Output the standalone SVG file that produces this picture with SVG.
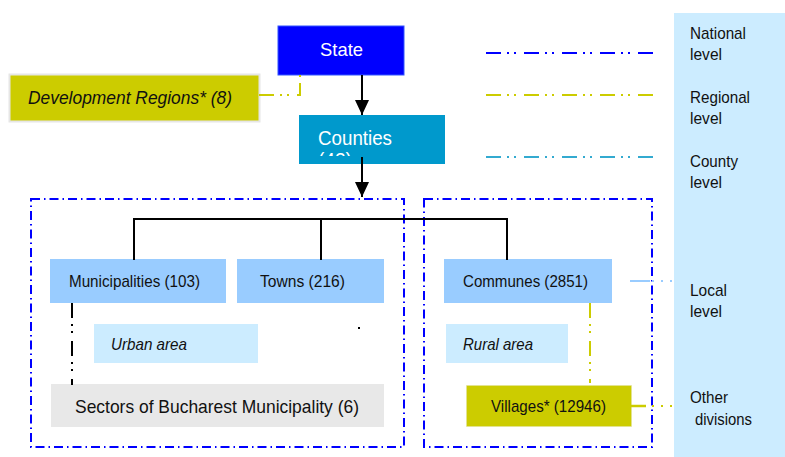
<svg xmlns="http://www.w3.org/2000/svg" width="785" height="457" viewBox="0 0 785 457">
<style>
text{font-family:"Liberation Sans",Arial,sans-serif;fill:#111}
.w{fill:#fff}
.it{font-style:italic}
.ddot{fill:none;stroke-width:2;stroke-dasharray:15 6 2 5 2 8}
.frame{fill:none;stroke:#0000FF;stroke-width:2;stroke-dasharray:9 4 1.5 4}
.conn{fill:none;stroke:#000;stroke-width:2}
</style>
<defs>
<marker id="ah" viewBox="0 0 15 14" refX="15" refY="7" markerWidth="15" markerHeight="14" markerUnits="userSpaceOnUse" orient="auto">
<path d="M0,0 L15,7 L0,14 Z" fill="#000"/>
</marker>
<clipPath id="cc"><rect x="299" y="115" width="146" height="41"/></clipPath>
</defs>
<g id="panel">
<rect x="674" y="13" width="111" height="444" fill="#CCECFF"/>
<text x="690" y="39" font-size="17" textLength="56" lengthAdjust="spacingAndGlyphs">National</text>
<text x="690" y="60" font-size="17" textLength="32" lengthAdjust="spacingAndGlyphs">level</text>
<text x="690" y="103" font-size="17" textLength="60" lengthAdjust="spacingAndGlyphs">Regional</text>
<text x="690" y="124" font-size="17" textLength="32" lengthAdjust="spacingAndGlyphs">level</text>
<text x="690" y="167" font-size="17" textLength="48" lengthAdjust="spacingAndGlyphs">County</text>
<text x="690" y="188" font-size="17" textLength="32" lengthAdjust="spacingAndGlyphs">level</text>
<text x="690" y="296" font-size="17" textLength="37" lengthAdjust="spacingAndGlyphs">Local</text>
<text x="690" y="317" font-size="17" textLength="32" lengthAdjust="spacingAndGlyphs">level</text>
<text x="690" y="403" font-size="17" textLength="38" lengthAdjust="spacingAndGlyphs">Other</text>
<text x="695" y="425" font-size="17" textLength="57" lengthAdjust="spacingAndGlyphs">divisions</text>
</g>
<g id="frames">
<rect class="frame" x="31" y="199" width="373" height="248"/>
<rect class="frame" x="424" y="199" width="228" height="248"/>
</g>
<g id="state">
<rect x="278" y="26" width="126" height="49" fill="#0000FF" stroke="#3355FF" stroke-width="1"/>
<text class="w" x="320" y="56" font-size="19" textLength="43" lengthAdjust="spacingAndGlyphs">State</text>
</g>
<g id="regions">
<rect x="9.5" y="74.5" width="250" height="47" fill="#CCCC00" stroke="#E6E6E6" stroke-width="2"/>
<text class="it" x="28" y="104" font-size="19" textLength="204" lengthAdjust="spacingAndGlyphs">Development Regions* (8)</text>
</g>
<g id="counties">
<rect x="299" y="115" width="146" height="49" fill="#0099CC"/>
<text class="w" x="318" y="145" font-size="20" textLength="74" lengthAdjust="spacingAndGlyphs">Counties</text>
<text class="w" x="318" y="167" font-size="20" clip-path="url(#cc)" textLength="34" lengthAdjust="spacingAndGlyphs">(42)</text>
</g>
<g id="municipalities">
<rect x="50" y="259" width="176" height="44" fill="#99CCFF"/>
<text x="69" y="287" font-size="17" textLength="131" lengthAdjust="spacingAndGlyphs">Municipalities (103)</text>
</g>
<g id="towns">
<rect x="237" y="259" width="147" height="44" fill="#99CCFF"/>
<text x="260" y="287" font-size="17" textLength="85" lengthAdjust="spacingAndGlyphs">Towns (216)</text>
</g>
<g id="communes">
<rect x="444" y="259" width="168" height="44" fill="#99CCFF"/>
<text x="463" y="287" font-size="17" textLength="125" lengthAdjust="spacingAndGlyphs">Communes (2851)</text>
</g>
<g id="urban">
<rect x="94" y="324" width="164" height="39" fill="#CCECFF"/>
<text class="it" x="111" y="350" font-size="17" textLength="76" lengthAdjust="spacingAndGlyphs">Urban area</text>
</g>
<g id="rural">
<rect x="446" y="324" width="122" height="39" fill="#CCECFF"/>
<text class="it" x="463" y="350" font-size="17" textLength="70" lengthAdjust="spacingAndGlyphs">Rural area</text>
</g>
<g id="sectors">
<rect x="51" y="384" width="333" height="43" fill="#E8E8E8"/>
<text x="75" y="413" font-size="19" textLength="284" lengthAdjust="spacingAndGlyphs">Sectors of Bucharest Municipality (6)</text>
</g>
<g id="villages">
<rect x="466.5" y="385.5" width="165" height="41" fill="#CCCC00" stroke="#E0E0A0" stroke-width="1" stroke-dasharray="1 1"/>
<text x="491" y="412" font-size="17" textLength="115" lengthAdjust="spacingAndGlyphs">Villages* (12946)</text>
</g>
<g id="connectors">
<line class="conn" x1="362" y1="75" x2="362" y2="115" marker-end="url(#ah)"/>
<line class="conn" x1="362" y1="157" x2="362" y2="197" marker-end="url(#ah)"/>
<polyline class="conn" points="134,260 134,219 507,219 507,260"/>
<line class="conn" x1="321" y1="219" x2="321" y2="260"/>
<polyline class="ddot" stroke="#CCCC00" points="259,95 300,95 300,75"/>
<line class="ddot" stroke="#000" x1="72" y1="303" x2="72" y2="385"/>
<rect x="358" y="327" width="2" height="2" fill="#000"/>
<line class="ddot" stroke="#CCCC00" x1="590" y1="303" x2="590" y2="383"/>
<line stroke="#99CCFF" stroke-width="2" x1="630" y1="281" x2="650" y2="281"/>
<line stroke="#99CCFF" stroke-width="2" stroke-dasharray="2 7" x1="652" y1="281" x2="674" y2="281"/>
<line stroke="#CCCC00" stroke-width="2.5" x1="631" y1="406" x2="646" y2="406"/>
<line stroke="#CCCC00" stroke-width="2" stroke-dasharray="2 7" x1="652" y1="406" x2="674" y2="406"/>
<line class="ddot" stroke="#0000FF" x1="486" y1="53" x2="653" y2="53"/>
<line class="ddot" stroke="#CCCC00" stroke-width="2.5" x1="486" y1="95" x2="653" y2="95"/>
<line class="ddot" stroke="#33AAD0" x1="486" y1="157" x2="653" y2="157"/>
</g>
</svg>
